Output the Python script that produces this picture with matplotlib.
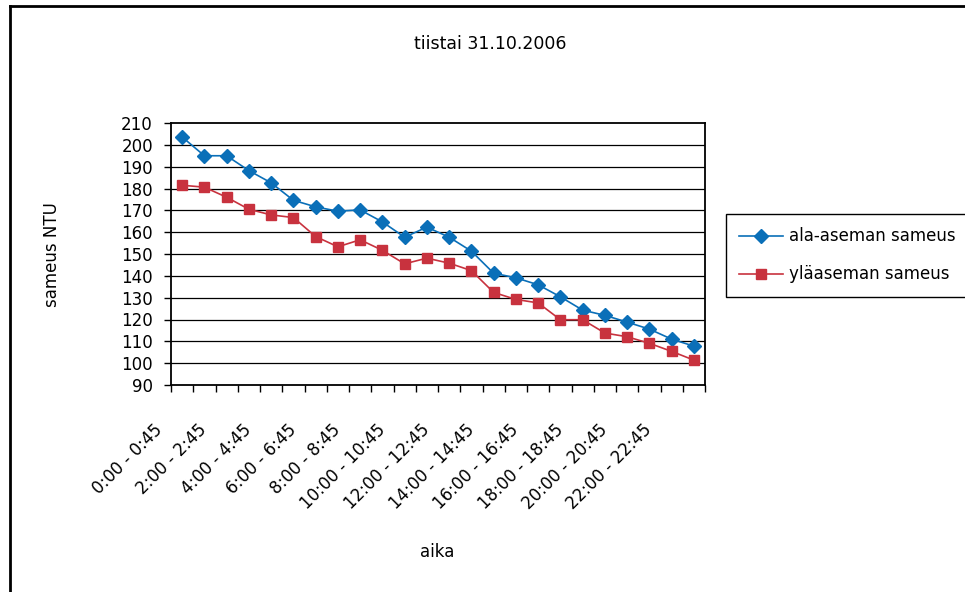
import matplotlib
matplotlib.use("Agg")
import matplotlib.pyplot as plt
import matplotlib.transforms as mtransforms
from matplotlib.lines import Line2D

plt.rcParams['font.family'] = ['DejaVu Sans']

# hourly slots 0:00 - 0:45 ... 23:00 - 23:45
slots = ["%d:00 - %d:45" % (h, h) for h in range(24)]

ala_aseman = [203.6, 195.0, 195.0, 188.2, 182.6, 174.6, 171.6, 169.6, 170.2, 164.7,
              157.7, 162.3, 157.7, 151.3, 141.2, 139.1, 135.9, 130.4, 124.3, 121.9,
              118.8, 115.6, 111.0, 107.8]
ylaaseman = [181.5, 180.6, 176.0, 170.5, 167.9, 166.7, 158.0, 153.3, 156.5, 151.7,
             145.5, 148.1, 145.8, 142.4, 132.4, 129.2, 127.6, 119.9, 119.9, 113.8,
             112.1, 109.1, 105.4, 101.4]

yticks = list(range(90, 211, 10))

blue = '#0a6fb8'
red = '#c8323e'

fig = plt.figure(figsize=(9.65, 5.92), dpi=100)
ax = fig.add_axes([171/965, 1-385/592, 534/965, 262/592])

x = list(range(len(slots)))
ax.plot(x, ala_aseman, color=blue, lw=1.2, marker='D', ms=7.5,
        label='ala-aseman sameus')
ax.plot(x, ylaaseman, color=red, lw=1.2, marker='s', ms=7,
        label='yläaseman sameus')

ax.set_xlim(-0.5, len(slots) - 0.5)
ax.set_ylim(90, 210)
ax.set_yticks(yticks)
for v in yticks[1:-1]:
    ax.axhline(v, color='black', lw=0.9, zorder=0)

ax.set_xticks(x[::2])
ax.set_xticklabels(slots[::2], rotation=45, ha='right', va='top')
ax.set_xticks([i - 0.5 for i in range(len(slots) + 1)], minor=True)
ax.tick_params(axis='x', which='major', length=0, pad=26, labelsize=12)
ax.tick_params(axis='x', which='minor', length=5, width=1, direction='out')
ax.tick_params(axis='y', length=5, width=1, pad=8, labelsize=12)
shift = mtransforms.ScaledTranslation(-0.16, 0, fig.dpi_scale_trans)
for lab in ax.get_xticklabels():
    lab.set_transform(lab.get_transform() + shift)

for s in ax.spines.values():
    s.set_color('black')
    s.set_linewidth(1.3)

fig.text(490/965, 1-44/592, 'tiistai 31.10.2006', ha='center', va='center', fontsize=12.5)
fig.text(52/965, 1-255/592, 'sameus NTU', ha='center', va='center', rotation=90, fontsize=12)
fig.text(437/965, 1-552/592, 'aika', ha='center', va='center', fontsize=12)

leg = fig.legend(loc='upper left', bbox_to_anchor=(726/965, 1-214/592),
                 fancybox=False, edgecolor='black', framealpha=1, fontsize=12,
                 handlelength=2.6, handletextpad=0.4, labelspacing=1.2,
                 borderpad=0.8, borderaxespad=0)
leg.get_frame().set_linewidth(1.0)

# outer chart frame
fig.add_artist(Line2D([10/965, 10/965], [0, 1-6/592], color='black', lw=2))
fig.add_artist(Line2D([10/965, 1], [1-6/592, 1-6/592], color='black', lw=2))

fig.savefig('out.png', dpi=100)
